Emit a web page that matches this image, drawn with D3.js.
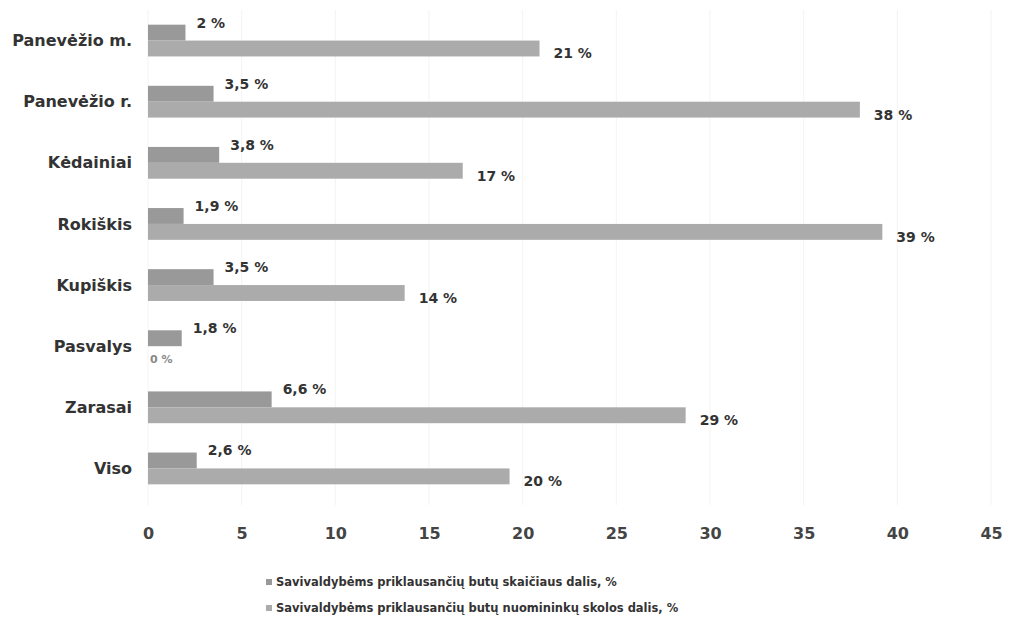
<!DOCTYPE html>
<html><head><meta charset="utf-8">
<script src="https://cdn.jsdelivr.net/npm/d3@7"></script>
<style>
body{margin:0;background:#fff;}
svg{display:block;}
text{font-family:"DejaVu Sans",sans-serif;font-weight:bold;}
</style></head>
<body><svg id="c" width="1009" height="625"></svg>
<script>
const categories = ["Panevėžio m.","Panevėžio r.","Kėdainiai","Rokiškis","Kupiškis","Pasvalys","Zarasai","Viso"];
const seriesNames = ["Savivaldybėms priklausančių butų skaičiaus dalis, %","Savivaldybėms priklausančių butų nuomininkų skolos dalis, %"];
const shareFlats = [2, 3.5, 3.8, 1.9, 3.5, 1.8, 6.6, 2.6];
const shareDebt = [20.9, 38, 16.8, 39.2, 13.7, 0, 28.7, 19.3];
const labelsFlats = ["2 %","3,5 %","3,8 %","1,9 %","3,5 %","1,8 %","6,6 %","2,6 %"];
const labelsDebt = ["21 %","38 %","17 %","39 %","14 %","0 %","29 %","20 %"];
const xTicks = [0,5,10,15,20,25,30,35,40,45];

const svg = d3.select("#c");
const colors = ["#999999","#ababab"];
const x = d3.scaleLinear().domain([0,45]).range([148,991]);
const y = d3.scaleBand().domain(categories).range([10,499]).paddingInner(0.48).paddingOuter(0.24);
const ys = d3.scaleBand().domain([0,1]).range([0,y.bandwidth()]);

// faint gridlines
svg.append("g").selectAll("line").data(xTicks).join("line")
  .attr("x1",d=>x(d)).attr("x2",d=>x(d)).attr("y1",10).attr("y2",505)
  .attr("stroke","#f3f3f3").attr("stroke-width",1);

const series = [shareFlats, shareDebt];
series.forEach((vals,si)=>{
  svg.append("g").selectAll("rect").data(categories).join("rect")
    .attr("x",x(0))
    .attr("y",(c)=>y(c)+ys(si))
    .attr("width",(c,i)=>x(vals[i])-x(0))
    .attr("height",ys.bandwidth())
    .attr("fill",colors[si]);
});

// data labels
svg.append("g").selectAll("text").data(categories).join("text")
  .attr("x",(c,i)=>x(shareFlats[i])+11)
  .attr("y",c=>y(c)-2)
  .attr("dy","0.35em")
  .attr("font-size",14).attr("fill","#333")
  .text((c,i)=>labelsFlats[i]);
svg.append("g").selectAll("text").data(categories).join("text")
  .attr("x",(c,i)=>shareDebt[i]===0 ? x(0)+2 : x(shareDebt[i])+14)
  .attr("y",c=>y(c)+ys(1)+ys.bandwidth()/2+5)
  .attr("dy","0.35em")
  .attr("font-size",(c,i)=>shareDebt[i]===0?11:14)
  .attr("fill",(c,i)=>shareDebt[i]===0?"#888":"#333")
  .text((c,i)=>labelsDebt[i]);

// category axis
const yAxis = svg.append("g").attr("transform","translate(132,0)")
  .call(d3.axisLeft(y).tickSize(0).tickPadding(0));
yAxis.select(".domain").remove();
yAxis.selectAll("text").attr("font-size",16).attr("fill","#333")
  .attr("font-family","DejaVu Sans, sans-serif").attr("font-weight","bold")
  .attr("dy","0.35em")
  .attr("y",0);

// x axis
const xAxis = svg.append("g").attr("transform","translate(0,520)")
  .call(d3.axisBottom(x).tickValues(xTicks).tickSize(0).tickPadding(8));
xAxis.select(".domain").remove();
xAxis.selectAll("text").attr("font-size",16).attr("fill","#444")
  .attr("font-family","Lato, sans-serif").attr("font-weight","bold");

// legend
const lg = svg.append("g");
seriesNames.forEach((n,i)=>{
  const yy = 582 + i*26;
  lg.append("rect").attr("x",266).attr("y",yy-3).attr("width",6).attr("height",6).attr("fill",colors[i]);
  lg.append("text").attr("x",276).attr("y",yy).attr("dy","0.35em")
    .attr("font-size",11.5).attr("fill","#333").text(n);
});
</script></body></html>
